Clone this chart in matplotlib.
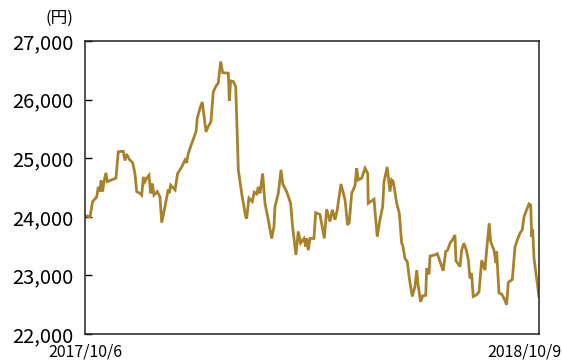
import matplotlib
matplotlib.use('Agg')
import matplotlib.pyplot as plt
import matplotlib.ticker as mticker
import numpy as np

plt.rcParams['font.family'] = ['Noto Sans CJK JP', 'DejaVu Sans']

# days since 2017/10/6 and closing price (yen)
days = [0, 4.1, 6.2, 9.5, 10.8, 12.2, 13.0, 14.3, 15.4, 17.0, 18.1, 21.6, 25.1, 27.0,
        31.0, 32.4, 33.8, 35.9, 38.7, 40.5, 41.9, 44.6, 46.0, 47.3, 48.6, 50.0, 51.9,
        53.3, 54.6, 55.9, 58.6, 60.8, 62.2, 64.8, 67.5, 68.3, 69.5, 73.0, 75.1, 78.4,
        81.1, 82.4, 83.7, 86.5, 90.0, 91.0, 93.2, 95.1, 98.1, 99.9, 102.1, 104.0,
        106.2, 108.0, 110.0, 111.6, 116.2, 117.0, 118.1, 120.2, 122.2, 124.3, 127.0,
        130.3, 131.1, 132.9, 135.6, 137.2, 139.2, 140.5, 141.9, 144.0, 145.9, 148.6,
        151.3, 153.2, 154.0, 156.7, 158.9, 160.3, 163.5, 166.7, 168.3, 171.0, 172.9,
        174.8, 177.5, 179.1, 179.7, 181.0, 182.4, 185.6, 187.0, 190.5, 194.0, 195.9,
        198.6, 200.5, 202.7, 204.5, 207.5, 210.8, 212.9, 214.2, 216.2, 218.9, 220.2,
        221.5, 224.3, 227.0, 229.2, 229.6, 234.3, 236.9, 239.1, 241.3, 242.4, 245.0,
        247.2, 248.6, 249.9, 252.7, 254.8, 256.7, 257.5, 259.4, 261.3, 262.9, 265.3,
        267.5, 268.9, 270.2, 272.1, 273.7, 276.2, 277.0, 278.9, 279.7, 283.7, 285.6,
        287.2, 290.4, 292.4, 294.0, 295.9, 297.7, 299.9, 300.7, 304.0, 305.3, 307.2,
        309.4, 310.7, 312.1, 313.4, 314.7, 317.5, 319.4, 321.6, 324.2, 326.1, 327.7,
        328.8, 331.5, 333.2, 333.7, 335.6, 337.8, 339.6, 341.8, 343.1, 346.4, 348.6,
        350.4, 352.6, 354.5, 355.9, 358.0, 359.9, 361.3, 362.1, 362.9, 364.0, 368.0]
price = [24020, 24000, 24260, 24340, 24510, 24430, 24620, 24430, 24600, 24750, 24600,
         24630, 24660, 25110, 25120, 24960, 25070, 24980, 24920, 24740, 24430, 24400,
         24370, 24680, 24600, 24660, 24710, 24400, 24570, 24370, 24430, 24340, 23900,
         24170, 24470, 24400, 24540, 24460, 24740, 24850, 24970, 24920, 25080, 25250,
         25450, 25680, 25850, 25960, 25450, 25540, 25620, 26130, 26230, 26280, 26650,
         26460, 26450, 25980, 26320, 26310, 26220, 24800, 24400, 24000, 23970, 24320,
         24260, 24420, 24390, 24510, 24400, 24740, 24230, 23950, 23630, 23830, 24170,
         24400, 24800, 24560, 24430, 24230, 23830, 23350, 23750, 23550, 23630, 23490,
         23630, 23430, 23630, 23630, 24070, 24040, 23630, 24130, 23920, 24120, 23950,
         24120, 24560, 24290, 23860, 23900, 24400, 24530, 24830, 24630, 24660, 24830,
         24740, 24230, 24300, 23660, 23950, 24170, 24600, 24850, 24430, 24630, 24600,
         24230, 24060, 23550, 23520, 23290, 23230, 22950, 22640, 22810, 23090, 22810,
         22550, 22650, 22660, 23120, 23020, 23330, 23350, 23370, 23270, 23080, 23410,
         23430, 23550, 23600, 23690, 23250, 23150, 23430, 23550, 23410, 23270, 22950,
         23040, 22640, 22670, 22720, 23260, 23090, 23550, 23890, 23580, 23430, 23210,
         23410, 22700, 22680, 22610, 22500, 22880, 22930, 23490, 23600, 23720, 23780,
         24000, 24120, 24220, 24200, 23660, 23790, 23290, 22640]
start_label = '2017/10/6'
end_label = '2018/10/9'
y_ticks = [22000, 23000, 24000, 25000, 26000, 27000]

fig = plt.figure(figsize=(5.62, 3.6), dpi=100)
ax = fig.add_axes([0.1512, 0.0722, 0.8078, 0.8139])
ax.plot(days, price, color='#a8822a', linewidth=2.0, solid_joinstyle='miter')
ax.set_xlim(0, 368)
ax.set_ylim(22000, 27000)
ax.set_yticks(y_ticks)
ax.yaxis.set_major_formatter(mticker.StrMethodFormatter('{x:,.0f}'))
ax.tick_params(axis='y', direction='in', length=5, width=1, labelsize=14.5, pad=8)
ax.set_xticks([])
for s in ax.spines.values():
    s.set_linewidth(1.1)
    s.set_color('#222222')

fig.text(0.105, 0.948, '(円)', fontsize=12, ha='center', va='center')
fig.text(0.152, 0.022, start_label, fontsize=11.5, ha='center', va='center')
fig.text(0.933, 0.022, end_label, fontsize=11.5, ha='center', va='center')

fig.savefig('out.png', dpi=100)
